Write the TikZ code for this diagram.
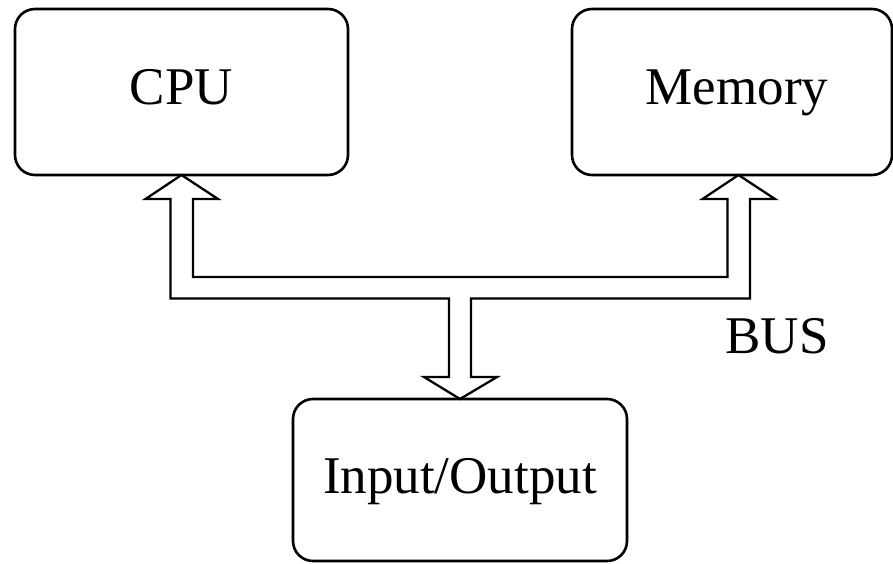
\documentclass[tikz,border=0pt]{standalone}
\usepackage{fontspec}
\setmainfont{Liberation Serif}

\begin{document}
\begin{tikzpicture}
  [  x=1pt, y=-1pt,
     unit/.style={draw,
                  rounded corners=20pt,
                  line width=2.6pt,
                  inner sep=0pt,
                  outer sep=0pt,
                  text height=36pt,
                  text depth=10pt,
                  font=\fontsize{53}{60}\selectfont},
     bus/.style={draw,
                 line width=2.3pt,
                 line join=miter},
     tag/.style={inner sep=0pt,
                 font=\fontsize{53}{60}\selectfont}
  ]
    \useasboundingbox (0,0) rectangle (893,564);

    \node[unit,minimum width=333pt,minimum height=166pt] (cpu) at (181.5,92) {CPU};
    \node[unit,minimum width=320pt,minimum height=166pt] (mem) at (732,92) {\hspace{10pt}Memory};
    \node[unit,minimum width=334pt,minimum height=162pt] (io) at (460,480) {Input/Output};

    \coordinate (cputip) at (cpu.south);
    \coordinate (memtip) at (738.5,175);
    \coordinate (iotip) at (io.north);

    %\draw (cputip) -- (memtip);
    \draw[bus] (cputip) -- (218,199) -- (193,199) -- (193,277) -- (727.5,277)
         -- (727.5,199) -- (702.5,199) -- (memtip) -- (775,199) -- (750,199)
         -- (750,298.5) -- (471,298.5) -- (471,377) -- (497,377) -- (iotip)
         -- (424,377) -- (449,377) -- (449,298.5) -- (170.5,298.5)
         -- (170.5,199) -- (145.5,199) -- cycle;

    \node[tag] (busname) at (777,336) {BUS};
\end{tikzpicture}
\end{document}
